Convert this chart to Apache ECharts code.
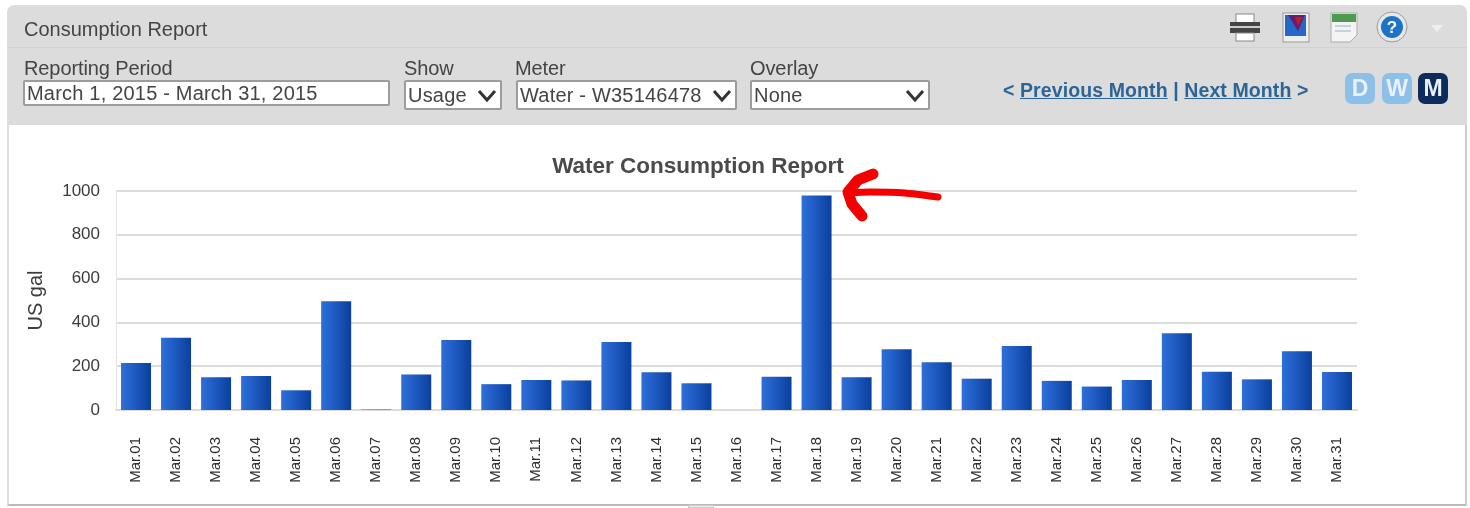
<!DOCTYPE html>
<html>
<head>
<meta charset="utf-8">
<script src="https://cdn.jsdelivr.net/npm/echarts@6/dist/echarts.min.js"></script>
<style>
html, body { margin: 0; padding: 0; background: #fff; overflow: hidden; }
body { width: 1470px; height: 508px; position: relative; font-family: "Liberation Sans", Arial, sans-serif; color: #444; }
.panel { position: absolute; left: 7px; top: 5px; width: 1460px; height: 501px; background: #fff; border-left: 2px solid #dedede; border-right: 2px solid #cfcfcf; border-bottom: 2px solid #bbb; border-radius: 8px 8px 0 0; box-sizing: border-box; }
.head { position: absolute; left: 7px; top: 5px; width: 1460px; height: 120px; background: #dcdcdc; border-radius: 8px 8px 0 0; }
.rule { position: absolute; left: 7px; top: 47px; width: 1460px; height: 1px; background: #d2d2d2; }
.t { position: absolute; white-space: nowrap; line-height: 1; filter: blur(.5px); }
.field { position: absolute; box-sizing: border-box; background: #fff; border: 2px solid #9c9c9c; border-radius: 2px; font-size: 20px; line-height: 22px; padding-left: 2px; color: #444; letter-spacing: .2px; white-space: nowrap; }
.field span { filter: blur(.5px); display: inline-block; }
.field svg { position: absolute; right: 3px; top: 5px; filter: blur(.4px); }
.btn { position: absolute; top: 73px; width: 30px; height: 31px; border-radius: 7px; color: #e8f1fa; background: #8dc0e8; font-size: 23px; font-weight: bold; line-height: 31px; text-align: center; filter: blur(.6px); }
a { color: #2c6496; font-weight: bold; text-decoration: underline; }
#main { position: absolute; left: 0; top: 0; width: 1470px; height: 508px; filter: blur(.6px); }
.icon { position: absolute; top: 11px; filter: blur(.7px); }
</style>
</head>
<body>
<div class="panel"></div>
<div class="head"></div>
<div class="rule"></div>

<div class="t" style="left:24px;top:19px;font-size:20px">Consumption Report</div>
<div class="t" style="left:24px;top:58px;font-size:20px;letter-spacing:-.1px">Reporting Period</div>
<div class="t" style="left:404px;top:58px;font-size:20px;letter-spacing:-.1px">Show</div>
<div class="t" style="left:515px;top:58px;font-size:20px;letter-spacing:-.1px">Meter</div>
<div class="t" style="left:750px;top:58px;font-size:20px;letter-spacing:-.1px">Overlay</div>

<div class="field" style="left:23px;top:80px;width:367px;height:26px"><span>March 1, 2015 - March 31, 2015</span></div>
<div class="field" style="left:404px;top:80px;width:98px;height:30px;padding-top:2px"><span>Usage</span><svg width="20" height="16"><path d="M2 4 L10 13 L18 4" fill="none" stroke="#333" stroke-width="3"/></svg></div>
<div class="field" style="left:516px;top:80px;width:221px;height:30px;padding-top:2px"><span>Water - W35146478</span><svg width="20" height="16"><path d="M2 4 L10 13 L18 4" fill="none" stroke="#333" stroke-width="3"/></svg></div>
<div class="field" style="left:750px;top:80px;width:180px;height:30px;padding-top:2px"><span>None</span><svg width="20" height="16"><path d="M2 4 L10 13 L18 4" fill="none" stroke="#333" stroke-width="3"/></svg></div>

<div class="t" style="left:1003px;top:81px;font-size:19.5px;color:#2c6496;font-weight:bold;letter-spacing:.1px">&lt; <a>Previous Month</a> | <a>Next Month</a> &gt;</div>

<div class="btn" style="left:1345px">D</div>
<div class="btn" style="left:1382px">W</div>
<div class="btn" style="left:1418px;background:#0d2c5c">M</div>

<svg class="icon" style="left:1228px" width="34" height="34"><rect x="8" y="3" width="18" height="9" fill="#fff" stroke="#888"/><rect x="2" y="11" width="30" height="11" fill="#444"/><rect x="2" y="15" width="30" height="2" fill="#ccc"/><rect x="8" y="22" width="18" height="8" fill="#fff" stroke="#888"/></svg>
<svg class="icon" style="left:1281px" width="30" height="34"><rect x="2" y="2" width="26" height="29" fill="#eee" stroke="#999"/><rect x="4" y="4" width="21" height="21" fill="#2468c8"/><path d="M7 4 H24 L17 20 Z" fill="#6b1a6e"/><path d="M14 6 L22 6 L17 15 Z" fill="#b5202e"/></svg>
<svg class="icon" style="left:1329px" width="30" height="34"><path d="M2 2 H28 V24 L21 31 H2 Z" fill="#f4f4f4" stroke="#aaa"/><rect x="3" y="3" width="24" height="8" fill="#4f9a50"/><path d="M6 15 H22 M6 20 H22" stroke="#c5d3dc" stroke-width="2"/></svg>
<svg class="icon" style="left:1375px" width="34" height="34"><circle cx="17" cy="16" r="15" fill="#e8e8e8" stroke="#999"/><circle cx="17" cy="16" r="11" fill="#1c74c8"/><text x="17" y="22" text-anchor="middle" font-family="Liberation Sans" font-weight="bold" font-size="17" fill="#fff">?</text></svg>
<svg class="icon" style="left:1430px;top:24px" width="14" height="10"><path d="M1 1 H13 L7 8 Z" fill="#efefef"/></svg>
<div style="position:absolute;left:688px;top:505px;width:26px;height:3px;background:#eee;border:1px solid #ccc;box-sizing:border-box"></div>

<div id="main"></div>

<script>
const days = ['Mar.01', 'Mar.02', 'Mar.03', 'Mar.04', 'Mar.05', 'Mar.06', 'Mar.07', 'Mar.08', 'Mar.09', 'Mar.10', 'Mar.11', 'Mar.12', 'Mar.13', 'Mar.14', 'Mar.15', 'Mar.16', 'Mar.17', 'Mar.18', 'Mar.19', 'Mar.20', 'Mar.21', 'Mar.22', 'Mar.23', 'Mar.24', 'Mar.25', 'Mar.26', 'Mar.27', 'Mar.28', 'Mar.29', 'Mar.30', 'Mar.31']
const usage = [215, 330, 150, 155, 90, 497, 2, 162, 320, 118, 137, 135, 310, 172, 122, 0, 152, 980, 150, 277, 218, 143, 292, 133, 107, 137, 350, 175, 140, 268, 173]
const yTicks = [0, 200, 400, 600, 800, 1000]

const chart = echarts.init(document.getElementById('main'), null, { renderer: 'canvas' })
chart.setOption({
  animation: false,
  textStyle: { fontFamily: '"Liberation Sans", Arial, sans-serif' },
  title: {
    text: 'Water Consumption Report',
    left: 693,
    top: 150,
    textAlign: 'center',
    textStyle: { fontSize: 22.5, fontWeight: 'bold', color: '#4a4a4a' }
  },
  grid: { left: 116, right: 113, top: 191, bottom: 98 },
  xAxis: {
    type: 'category',
    data: days,
    axisTick: { show: false },
    axisLine: { lineStyle: { color: '#dcdcdc', width: 2 } },
    axisLabel: { rotate: 90, interval: 0, margin: 27, fontSize: 15, color: '#2e2e2e' }
  },
  yAxis: {
    type: 'value',
    min: yTicks[0],
    max: yTicks[yTicks.length - 1],
    interval: 200,
    name: 'US gal',
    nameLocation: 'middle',
    nameGap: 70,
    nameTextStyle: { fontSize: 20, color: '#3c3c3c' },
    axisLine: { show: true, lineStyle: { color: '#e4e4e4', width: 1 } },
    axisTick: { show: false },
    axisLabel: { margin: 16, fontSize: 17, color: '#3c3c3c', formatter: v => String(v) },
    splitLine: { lineStyle: { color: '#dcdcdc', width: 2 } }
  },
  series: [{
    type: 'bar',
    data: usage,
    barWidth: 30,
    itemStyle: {
      color: new echarts.graphic.LinearGradient(0, 0, 1, 0, [
        { offset: 0, color: '#2f6fdb' },
        { offset: 1, color: '#0a409e' }
      ])
    }
  }],
  graphic: [{
    type: 'polyline',
    z: 100,
    shape: { points: [[938, 197], [905, 193], [870, 192], [848, 193]], smooth: 0.2 },
    style: { stroke: '#f50000', lineWidth: 7, lineCap: 'round', lineJoin: 'round', fill: null }
  }, {
    type: 'polyline',
    z: 100,
    shape: { points: [[873, 174], [858, 180], [848, 192], [852, 204], [862, 216]] },
    style: { stroke: '#f50000', lineWidth: 11, lineCap: 'round', lineJoin: 'round', fill: null }
  }]
})
</script>
</body>
</html>
